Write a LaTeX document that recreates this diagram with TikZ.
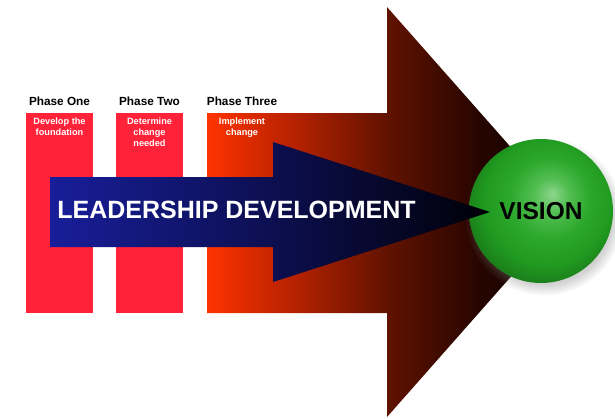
\documentclass[tikz,border=0pt]{standalone}
\usepackage{fontspec}
\setmainfont{Liberation Sans}
\usetikzlibrary{positioning,shadows}

\definecolor{phasered}{HTML}{FF2238}
\definecolor{emberA}{HTML}{FF3300}
\definecolor{emberB}{HTML}{B02000}
\definecolor{emberC}{HTML}{601200}
\definecolor{emberD}{HTML}{260500}
\definecolor{emberE}{HTML}{0E0000}
\definecolor{leadA}{HTML}{181E9A}
\definecolor{leadB}{HTML}{000052}
\definecolor{leadC}{HTML}{000006}
\definecolor{glowA}{HTML}{8ED68E}
\definecolor{glowB}{HTML}{52BE52}
\definecolor{glowC}{HTML}{2CA82C}
\definecolor{glowD}{HTML}{209A20}
\definecolor{glowE}{HTML}{1A7A1A}
\definecolor{glowF}{HTML}{0E500E}

% red to black along the big arrow
\pgfdeclarehorizontalshading{embers}{100bp}{color(0bp)=(emberA); color(25bp)=(emberA);
  color(38bp)=(emberB); color(50bp)=(emberC); color(63bp)=(emberD);
  color(75bp)=(emberE); color(100bp)=(emberE)}
% green ball, light spot up and right
\pgfdeclareradialshading{visionball}{\pgfqpoint{4bp}{6bp}}{color(0bp)=(glowA);
  color(6bp)=(glowB); color(14bp)=(glowC); color(22bp)=(glowD);
  color(29bp)=(glowE); color(34bp)=(glowF); color(50bp)=(glowF)}

\begin{document}
\begin{tikzpicture}[x=1pt,y=-1pt,
  phase/.style={fill=phasered, minimum width=67pt, minimum height=200pt, inner sep=0pt},
  phasetitle/.style={font=\bfseries\fontsize{11.8}{14}\selectfont, inner sep=0pt},
  phasenote/.style={text=white, font=\bfseries\fontsize{9.2}{11}\selectfont, align=center, inner sep=0pt}]
  \useasboundingbox (0,0) rectangle (615,418);
  \fill[white] (0,0) rectangle (615,418);

  % first two phases
  \node[phase] (one) at (59.5,213) {};
  \node[phase] (two) at (149.5,213) {};

  % big arrow, its tail is phase three
  \shade[shading=embers] (207,113) -- (387,113) -- (387,7) -- (568,212)
    -- (387,417) -- (387,313) -- (207,313) -- cycle;
  \coordinate (three) at (242,113);

  % the goal
  \node[circle, minimum size=144pt, inner sep=0pt, shade, shading=visionball,
    circular drop shadow={shadow xshift=3pt, shadow yshift=-5pt, opacity=.35},
    font=\bfseries\fontsize{24.5}{28}\selectfont] (vision) at (541,211) {VISION};

  % blue arrow on top
  \shade[left color=leadA, middle color=leadB, right color=leadC]
    (50,177) -- (273,177) -- (273,142) -- (490,212) -- (273,282)
    -- (273,247) -- (50,247) -- cycle;
  \node[text=white, font=\bfseries\fontsize{25}{30}\selectfont] (lead) at (236.5,210)
    {LEADERSHIP DEVELOPMENT};

  % titles and notes
  \node[phasetitle, above=7pt of one.north] (onetitle) {Phase One};
  \node[phasetitle, above=7pt of two.north] (twotitle) {Phase Two};
  \node[phasetitle, above=7pt of three] (threetitle) {Phase Three};
  \node[phasenote, below=4.5pt of one.north] (onenote) {Develop the\\foundation};
  \node[phasenote, below=4.5pt of two.north] (twonote) {Determine\\change\\needed};
  \node[phasenote, below=4.5pt of three] (threenote) {Implement\\change};
\end{tikzpicture}
\end{document}
